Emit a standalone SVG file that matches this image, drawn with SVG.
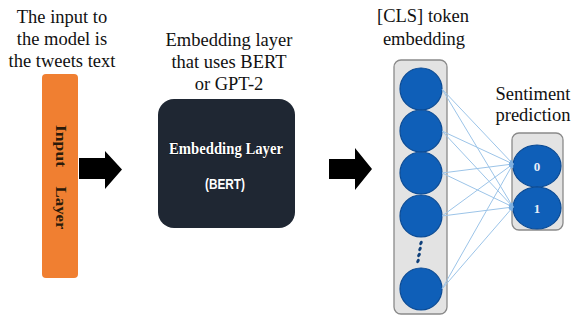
<svg xmlns="http://www.w3.org/2000/svg" width="578" height="320" viewBox="0 0 578 320">
<defs>
<style>
.cap{font-family:"Liberation Serif","Times New Roman",serif;font-size:18.5px;fill:#111;text-anchor:middle}
.node{fill:#0f5fb8;stroke:#0a4a94;stroke-width:1.2}
.panel{fill:#e3e3e3;stroke:#8a8a8a;stroke-width:1.3}
.conn{stroke:#9cc4e8;stroke-width:1;fill:none}
.bigarrow{fill:#000}
</style>
<marker id="ah" viewBox="0 0 6 6" refX="5" refY="3" markerWidth="5" markerHeight="5" orient="auto">
<path d="M0,0 L6,3 L0,6 z" fill="#7fb0e0"/>
</marker>
</defs>
<rect width="578" height="320" fill="#fff"/>

<g id="input-layer">
<text class="cap" x="62" y="23">The input to</text>
<text class="cap" x="62" y="45">the model is</text>
<text class="cap" x="62" y="67">the tweets text</text>
<rect x="42" y="74" width="36" height="204" rx="4" fill="#f07f31"/>
<text transform="translate(56,146) rotate(90)" text-anchor="middle" font-family="Liberation Serif,serif" font-weight="bold" font-size="14" fill="#2a1a0a" textLength="42" lengthAdjust="spacingAndGlyphs">Input</text>
<text transform="translate(56,208) rotate(90)" text-anchor="middle" font-family="Liberation Serif,serif" font-weight="bold" font-size="14" fill="#2a1a0a" textLength="43" lengthAdjust="spacingAndGlyphs">Layer</text>
</g>

<g id="embedding-layer">
<text class="cap" x="229" y="46">Embedding layer</text>
<text class="cap" x="229" y="68">that uses BERT</text>
<text class="cap" x="229" y="90">or GPT-2</text>
<rect x="158" y="99" width="137" height="129" rx="16" fill="#1f2733"/>
<text x="226" y="154" text-anchor="middle" font-family="Liberation Serif,serif" font-weight="bold" font-size="17" fill="#fff" stroke="#000" stroke-width="0.7" paint-order="stroke" textLength="114" lengthAdjust="spacingAndGlyphs">Embedding Layer</text>
<text x="225" y="189" text-anchor="middle" font-family="Liberation Sans,Arial,sans-serif" font-weight="bold" font-size="14" fill="#fff" textLength="40" lengthAdjust="spacingAndGlyphs">(BERT)</text>
</g>

<g id="cls-embedding">
<text class="cap" x="423" y="22">[CLS] token</text>
<text class="cap" x="424" y="45">embedding</text>
<rect class="panel" x="394" y="60" width="53" height="254" rx="7"/>
<circle class="node" cx="421" cy="89" r="21"/>
<circle class="node" cx="421" cy="131" r="21"/>
<circle class="node" cx="421" cy="173" r="21"/>
<circle class="node" cx="421" cy="216" r="21"/>
<ellipse cx="421" cy="243" rx="1.5" ry="2.3" transform="rotate(30 421 243)" fill="#0e3f7a"/>
<ellipse cx="420" cy="249" rx="1.5" ry="2.3" transform="rotate(30 420 249)" fill="#0e3f7a"/>
<ellipse cx="419" cy="255" rx="1.5" ry="2.3" transform="rotate(30 419 255)" fill="#0e3f7a"/>
<ellipse cx="418" cy="261" rx="1.5" ry="2.3" transform="rotate(30 418 261)" fill="#0e3f7a"/>
<circle class="node" cx="421" cy="289" r="21"/>
</g>

<g id="sentiment-prediction">
<text class="cap" x="533" y="100">Sentiment</text>
<text class="cap" x="533" y="121">prediction</text>
<rect class="panel" x="512" y="133" width="51" height="97" rx="7"/>
<ellipse class="node" cx="537" cy="166" rx="24" ry="21"/>
<ellipse class="node" cx="537" cy="208" rx="24" ry="21"/>
<text x="537" y="171" text-anchor="middle" font-family="Liberation Serif,serif" font-weight="bold" font-size="13" fill="#e8eef8">0</text>
<text x="537" y="213" text-anchor="middle" font-family="Liberation Serif,serif" font-weight="bold" font-size="13" fill="#e8eef8">1</text>
</g>

<g id="connectors">
<path class="bigarrow" d="M79,158 L105,158 L105,151 L122,169.5 L105,189 L105,179 L79,179 Z"/>
<path class="bigarrow" d="M329,159 L355,159 L355,148 L372,169 L355,190 L355,179 L329,179 Z"/>
<g class="conn" marker-end="url(#ah)">
<line x1="442" y1="89" x2="513" y2="164"/>
<line x1="442" y1="89" x2="513" y2="207"/>
<line x1="442" y1="131" x2="513" y2="164"/>
<line x1="442" y1="131" x2="513" y2="207"/>
<line x1="442" y1="173" x2="513" y2="164"/>
<line x1="442" y1="173" x2="513" y2="207"/>
<line x1="442" y1="216" x2="513" y2="164"/>
<line x1="442" y1="216" x2="513" y2="207"/>
<line x1="442" y1="289" x2="513" y2="164"/>
<line x1="442" y1="289" x2="513" y2="207"/>
</g>
</g>
</svg>
